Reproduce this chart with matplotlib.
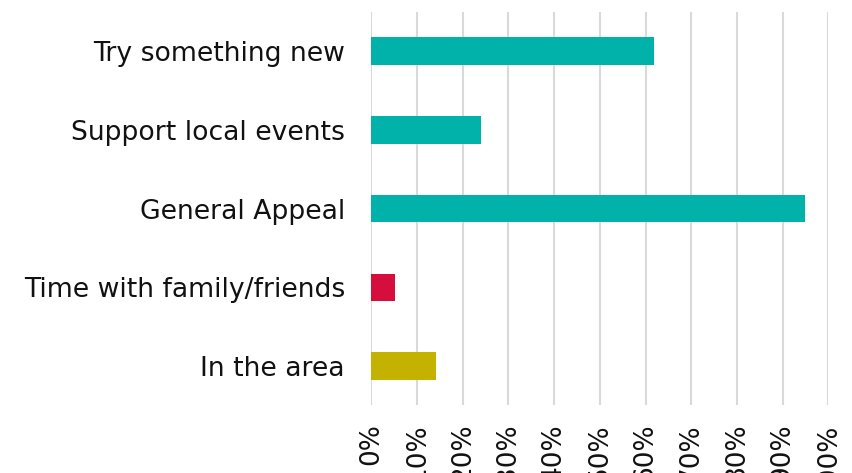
import matplotlib
matplotlib.use("Agg")
import matplotlib.pyplot as plt
import numpy as np

# survey reasons, top to bottom
reasons = ["Try something new", "Support local events", "General Appeal",
           "Time with family/friends", "In the area"]
shares = [61.9, 23.9, 94.9, 5.1, 14.2]
bar_colors = ["#00B2A9", "#00B2A9", "#00B2A9", "#D50E3D", "#C4B200"]
tick_values = [0, 10, 20, 30, 40, 50, 60, 70, 80, 90, 100]
tick_labels = [f"{v}%" for v in tick_values]

plt.rcParams['font.family'] = ['DejaVu Sans']

fig = plt.figure(figsize=(8.52, 4.73), dpi=100)
ax = fig.add_axes([0.4358, 0.1429, 0.5364, 0.8324])

y = np.arange(len(reasons))
ax.barh(y, shares, height=0.35, color=bar_colors, zorder=3)

ax.set_ylim(len(reasons) - 0.5, -0.5)
ax.set_xlim(0, 100)
ax.set_yticks(y)
ax.set_yticklabels(reasons, fontsize=19.2, color="#111111")
ax.set_xticks(tick_values)
ax.set_xticklabels(tick_labels, fontsize=19, color="#111111", rotation=90)

ax.tick_params(axis="y", length=0, pad=19)
ax.tick_params(axis="x", length=0, pad=13)
ax.grid(axis="x", color="#d9d9d9", linewidth=1.5, zorder=0)
for s in ax.spines.values():
    s.set_visible(False)

fig.savefig("out.png", dpi=100)
